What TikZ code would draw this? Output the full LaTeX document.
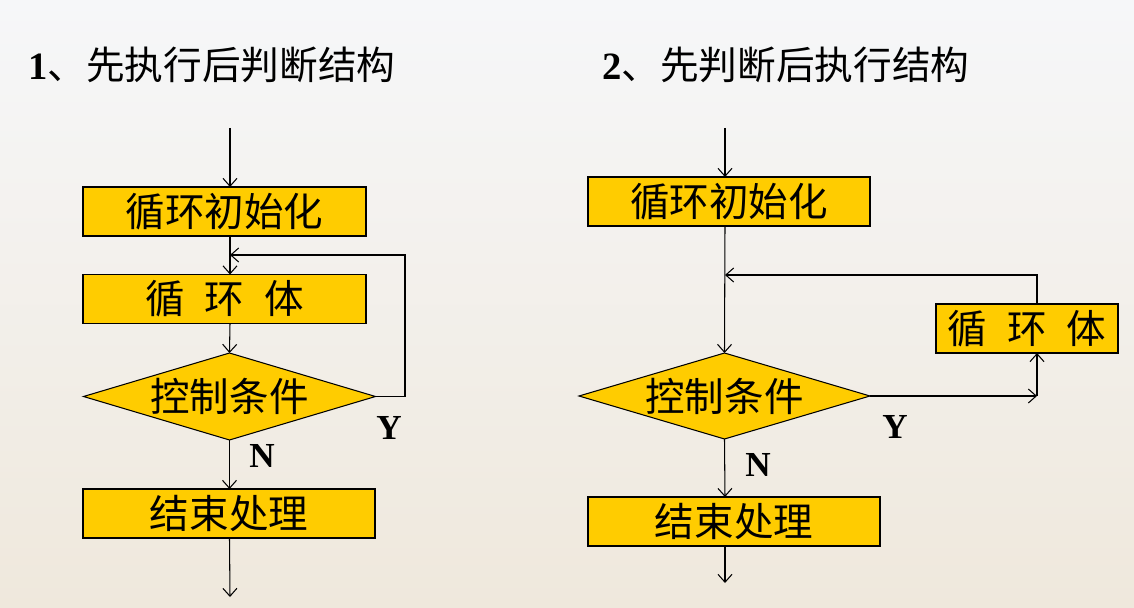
\documentclass[tikz,border=0pt]{standalone}
\usepackage{fontspec}
\setmainfont{Liberation Serif}
\newfontfamily\cjk{Noto Sans CJK SC}
\usetikzlibrary{shapes.geometric,arrows.meta}

\definecolor{boxfill}{RGB}{255,204,0}
\definecolor{bgtop}{RGB}{246,247,249}
\definecolor{bgmid}{RGB}{245,245,244}
\definecolor{bgbot}{RGB}{239,232,220}

\tikzset{
  box/.style={draw, line width=0.8pt, fill=boxfill, minimum width=5.66cm, minimum height=0.98cm, inner sep=0pt, outer sep=0pt, font=\cjk\fontsize{22.5}{26}\selectfont},
  cond/.style={diamond, aspect=3.36, draw, line width=0.6pt, fill=boxfill, minimum width=5.84cm, minimum height=1.74cm, inner sep=0pt, outer sep=0pt, font=\cjk\fontsize{22.5}{26}\selectfont},
  flow/.style={line width=0.6pt, -{Straight Barb[length=4.5pt,width=8pt]}},
  heading/.style={anchor=west, inner sep=0pt, font=\fontsize{22}{26}\selectfont},
  yn/.style={inner sep=0pt, font=\bfseries\fontsize{20}{24}\selectfont}
}

\begin{document}
\begin{tikzpicture}[x=0.02cm, y=-0.02cm]
        \useasboundingbox (0,0) rectangle (1134,608);
        \shade[top color=bgtop, middle color=bgmid, bottom color=bgbot] (0,0) rectangle (1134,608);

        % titles
        \node[heading] (T1) at (28,65) {\textbf{1}{\cjk 、先执行后判断结构}};
        \node[heading] (T2) at (602,65) {\textbf{2}{\cjk 、先判断后执行结构}};

        % left chart: do ... while
        \coordinate (in1) at (230,128);
        \node[box] (init1) at (224.5,211.5) {循环初始化};
        \node[box] (body1) at (224.5,299) {循\hspace{0.5em}环\hspace{0.5em}体};
        \node[cond] (cond1) at (229.5,396.5) {控制条件};
        \node[box, minimum width=5.84cm] (end1) at (229,513.5) {结束处理};
        \coordinate (out1) at (230,597);
        \coordinate (back1) at (230,255);
        \coordinate (loop1) at (405,255);

        \draw[flow] (in1) -- (in1 |- init1.north);
        \draw[flow] (in1 |- init1.south) -- (in1 |- body1.north);
        \draw[flow] (in1 |- body1.south) -- (cond1.north);
        \draw[flow] (cond1.south) -- (cond1.south |- end1.north);
        \draw[flow] (cond1.south |- end1.south) -- (out1);
        \draw[flow] (cond1.east) -| (loop1) -- (back1);
        \node[yn] (Y1) at (389,428) {Y};
        \node[yn] (N1) at (262,456) {N};

        % right chart: while
        \coordinate (in2) at (725,128);
        \node[box, minimum width=5.64cm] (init2) at (729,201.5) {循环初始化};
        \node[cond, minimum width=5.82cm, minimum height=1.72cm] (cond2) at (724.5,396) {控制条件};
        \node[box, minimum width=3.64cm] (body2) at (1027,328.5) {循\hspace{0.5em}环\hspace{0.5em}体};
        \node[box, minimum width=5.84cm] (end2) at (734,521.5) {结束处理};
        \coordinate (out2) at (725,583);
        \coordinate (back2) at (725,275);
        \coordinate (turn2) at (1037,396);

        \draw[flow] (in2) -- (in2 |- init2.north);
        \draw[flow] (in2 |- init2.south) -- (cond2.north);
        \draw[flow] (cond2.east) -- (turn2);
        \draw[flow] (turn2) -- (turn2 |- body2.south);
        \draw[flow] (turn2 |- body2.north) |- (back2);
        \draw[flow] (cond2.south) -- (in2 |- end2.north);
        \draw[flow] (in2 |- end2.south) -- (out2);
        \node[yn] (Y2) at (895,427) {Y};
        \node[yn] (N2) at (758,465) {N};
\end{tikzpicture}
\end{document}
